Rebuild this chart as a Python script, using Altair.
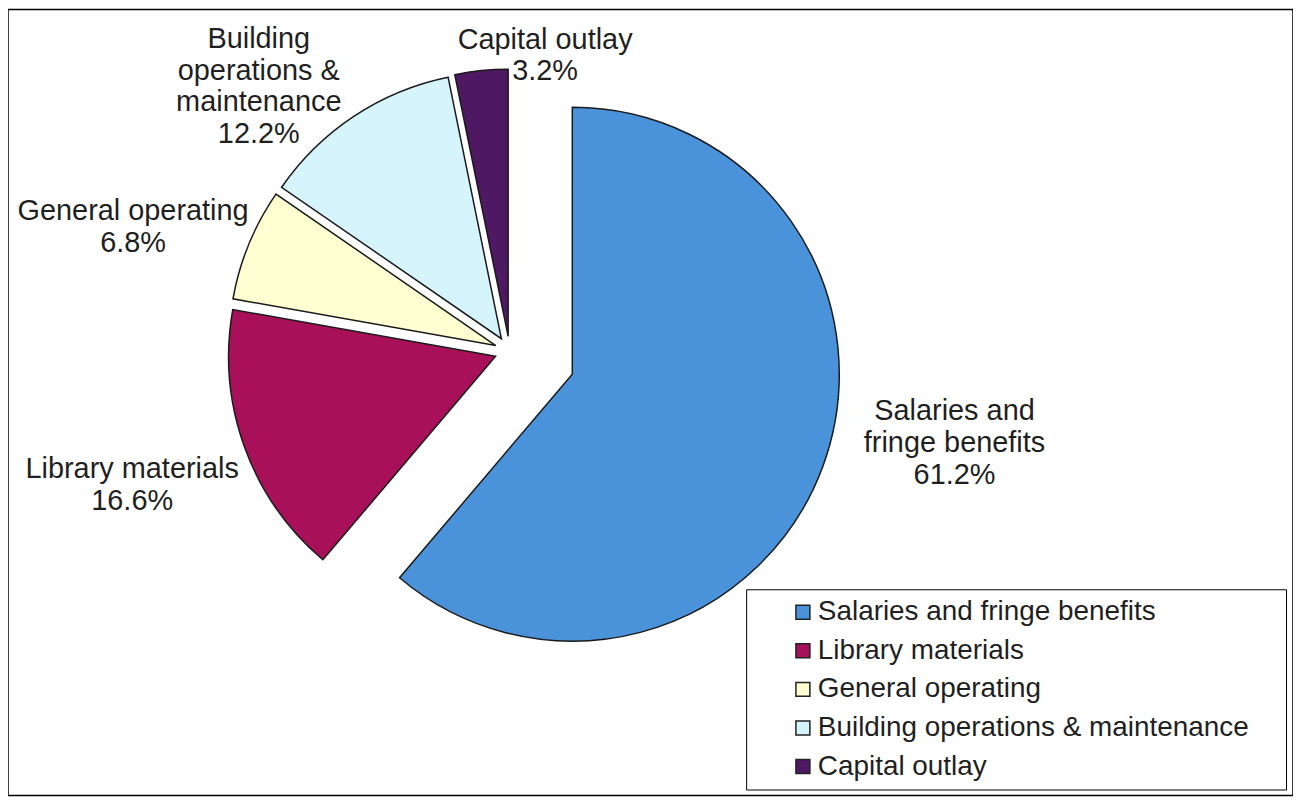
import altair as alt
import pandas as pd

# ---- data ----
categories = [
    "Salaries and fringe benefits",
    "Library materials",
    "General operating",
    "Building operations & maintenance",
    "Capital outlay",
]
shares = [61.2, 16.6, 6.8, 12.2, 3.2]
label_names = [
    "Salaries and\nfringe benefits",
    "Library materials",
    "General operating",
    "Building\noperations &\nmaintenance",
    "Capital outlay",
]

# ---- styles / layout ----
colors = ["#4A93DB", "#A8105A", "#FFFFD2", "#D6F4FB", "#4F1862"]
explode = [67, 15, 15, 15, 15]               # px each slice is pulled out
label_radius = [456, 402, 398, 366, 299]      # px from pie centre
label_shift = [-8.5, 0.3, -4.1, -10.0, 12.6]  # degrees from slice mid-angle
CX, CY, R = 503.6, 343.0, 268
LH = 31.7

df = pd.DataFrame({
    "idx": list(range(len(categories))),
    "category": categories,
    "share": shares,
    "label": [f"{n}\n{v:.1f}%" for n, v in zip(label_names, shares)],
    "nl": [n.count("\n") + 2 for n in label_names],
    "explode": explode,
    "lr": label_radius,
    "ls": label_shift,
})

base = (
    alt.Chart(df)
    .transform_window(cum="sum(share)", sort=[alt.SortField("idx")], frame=[None, 0])
    .transform_calculate(a0="(datum.cum - datum.share) / 100 * 2 * PI")
    .transform_calculate(a1="datum.cum / 100 * 2 * PI")
    .transform_calculate(mid="(datum.a0 + datum.a1) / 2")
    .transform_calculate(px=f"{CX} + datum.explode * sin(datum.mid)")
    .transform_calculate(py=f"{CY} - datum.explode * cos(datum.mid)")
    .transform_calculate(la="datum.mid + datum.ls * PI / 180")
    .transform_calculate(lx=f"{CX} + datum.lr * sin(datum.la)")
    .transform_calculate(ly=f"{CY} - datum.lr * cos(datum.la) - (datum.nl - 1) * {LH} / 2")
)

arcs = base.mark_arc(radius=R, stroke="#1a1a1a", strokeWidth=1.5).encode(
    x=alt.X("px:Q", scale=None),
    y=alt.Y("py:Q", scale=None),
    theta=alt.Theta("a0:Q", scale=None, stack=None),
    theta2="a1:Q",
    color=alt.Color(
        "category:N",
        scale=alt.Scale(domain=categories, range=colors),
        sort=categories,
        legend=alt.Legend(
            title="\u00a0",
            titleOrient="right",
            titleColor="transparent",
            titleFontSize=28,
            titlePadding=28,
            orient="none",
            legendX=741,
            legendY=582,
            symbolType="square",
            symbolSize=196,
            symbolStrokeColor="#222222",
            symbolStrokeWidth=1.5,
            symbolOffset=34,
            labelFont="Liberation Sans",
            labelFontSize=28,
            labelColor="#1f1f1f",
            labelOffset=1,
            labelLimit=0,
            rowPadding=10.75,
            padding=9,
            strokeColor="#000000",
        ),
    ),
)

texts = base.mark_text(
    font="Liberation Sans",
    fontSize=29,
    lineBreak="\n",
    lineHeight=LH,
    align="center",
    baseline="middle",
    color="#1f1f1f",
).encode(
    x=alt.X("lx:Q", scale=None),
    y=alt.Y("ly:Q", scale=None),
    text="label:N",
)

chart = (
    alt.layer(arcs, texts)
    .properties(width=1290, height=789, padding=0, autosize="none")
    .configure_view(stroke="#000000", strokeWidth=1.5)
)

chart.save("out.html", embed_options={"renderer": "svg", "actions": False})
